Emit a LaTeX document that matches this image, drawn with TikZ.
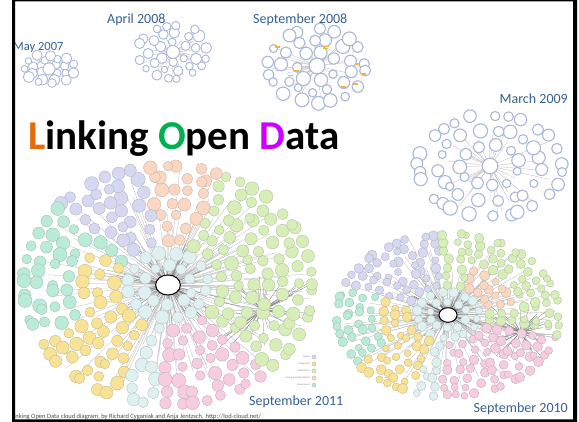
\documentclass[tikz,border=0pt]{standalone}
\usepackage{fontspec}
\setmainfont{Carlito}
\definecolor{lblblue}{RGB}{55,96,146}
\definecolor{lorange}{RGB}{228,108,10}
\definecolor{ogreen}{RGB}{0,176,80}
\definecolor{dmagenta}{RGB}{204,0,255}
\definecolor{media}{RGB}{213,216,240}
\definecolor{usergen}{RGB}{250,215,195}
\definecolor{pubs}{RGB}{215,238,185}
\definecolor{life}{RGB}{245,205,222}
\definecolor{cross}{RGB}{222,240,240}
\definecolor{geo}{RGB}{247,226,150}
\definecolor{gov}{RGB}{185,235,215}
\definecolor{monoedge}{RGB}{170,185,215}
\definecolor{tagorange}{RGB}{245,180,60}
\begin{document}
\begin{tikzpicture}[x=1pt, y=1pt, line join=round, line cap=round,
	bub/.style={fill=#1, draw=#1!60!gray, line width=.4pt},
	mono/.style={fill=white, draw=monoedge},
	link/.style={draw=gray!60, line width=.25pt},
	hub/.style={fill=white, draw=black, line width=1pt},
	lbl/.style={text=lblblue, font=\fontsize{14}{16}\selectfont, inner sep=0pt}]
	\pgfmathsetseed{11}
	\fill[white] (0,0) rectangle (579,422);
	\useasboundingbox (0,0) rectangle (579,422);
	\begin{scope}
	\clip (15,2.5) rectangle (573,420.5);
	% early clouds, all white
	\foreach \cx/\cy/\rx/\ry/\r in {49/353/28/16/4.3, 173/370/38/30/4.6, 317/356/54/41/5.6, 490/256/80/56/5.6}{
		\foreach \k in {1,...,35}{
			\pgfmathsetmacro\t{360*rnd}
			\pgfmathsetmacro\f{0.3+0.6*rnd}
			\draw[link] (\cx,\cy) -- ({\cx+\f*\rx*cos(\t)},{\cy+\f*\ry*sin(\t)});
		}
		\pgfmathsetmacro\lw{0.2*\r}
		\foreach \f in {0.36,0.64,0.9}{
			\pgfmathtruncatemacro\n{round(6.2832*\f*(\rx+\ry)/2/(2.6*\r))}
			\foreach \i in {1,...,\n}{
				\pgfmathsetmacro\t{(\i-0.5)*360/\n+6*rand}
				\pgfmathsetmacro\s{\r*(0.7+0.6*rnd)}
				\filldraw[mono, line width=\lw pt] ({\cx+\f*\rx*cos(\t)+\r*0.3*rand},{\cy+\f*\ry*sin(\t)+\r*0.3*rand}) circle (\s);
			}
		}
		\filldraw[mono, line width=\lw pt] (\cx,\cy) circle ({1.4*\r});
	}
	\foreach \k in {1,...,9}{
		\pgfmathsetmacro\t{360*rnd}
		\pgfmathsetmacro\f{0.4+0.5*rnd}
		\fill[tagorange] ({317+\f*54*cos(\t)},{356+\f*41*sin(\t)}) rectangle ++(5,1.6);
	}
	% coloured clouds: 2011 and 2010
	\foreach \w/\cx/\cy/\rx/\ry/\r in {1/168/137/152/125/5.9, 2/448/107/117/85/4.3}{
		\foreach \k in {1,...,170}{
			\pgfmathsetmacro\t{360*rnd}
			\pgfmathsetmacro\f{0.25+0.7*rnd}
			\draw[link] (\cx,\cy) -- ({\cx+\f*\rx*cos(\t)},{\cy+\f*\ry*sin(\t)});
		}
		\foreach \k in {1,...,60}{
			\pgfmathsetmacro\t{360*rnd}
			\pgfmathsetmacro\f{0.1+0.3*rnd}
			\draw[link, draw=black!55] (\cx,\cy) -- ({\cx+\f*\rx*cos(\t)},{\cy+\f*\ry*sin(\t)});
		}
		\foreach \k in {1,...,50}{
			\draw[link, draw=black!55] ({\cx+0.62*\rx},{\cy-0.2*\ry}) -- ++({0.3*\rx*rand},{0.3*\ry*rand});
		}
		\foreach \v/\a/\b/\c/\lo/\hi in {1/0/360/cross/0/.27, 1/68/100/usergen/.3/1, 1/100/140/media/.3/1,
			1/140/150/gov/.3/1, 1/150/205/gov/.6/1, 1/150/205/geo/.3/.59, 1/205/250/geo/.3/1,
			1/250/265/cross/.3/1, 1/265/315/life/.3/1, 1/315/428/pubs/.3/1,
			2/0/360/cross/0/.27, 2/95/160/media/.3/1, 2/160/215/gov/.6/1, 2/160/215/geo/.3/.59,
			2/215/250/geo/.3/1, 2/250/265/cross/.3/1, 2/265/345/life/.3/1, 2/345/370/pubs/.3/.59,
			2/370/430/usergen/.3/.59, 2/430/455/pubs/.3/.59, 2/345/455/pubs/.6/1}{
			\ifnum\v=\w
			\foreach \f in {0.16,0.26,0.36,0.46,0.56,0.66,0.76,0.86,0.95}{
				\pgfmathtruncatemacro\ok{and(notless(\f,\lo),notgreater(\f,\hi))}
				\ifnum\ok=1
				\pgfmathtruncatemacro\n{max(1,round(\f*(\rx+\ry)/2*(\b-\a)/57.3/(2.45*\r)))}
				\foreach \i in {1,...,\n}{
					\pgfmathsetmacro\t{\a+(\i-0.5)*(\b-\a)/\n+3*rand}
					\pgfmathsetmacro\s{\r*(0.8+0.4*rnd)}
					\filldraw[bub=\c] ({\cx+\f*\rx*cos(\t)+1.2*rand},{\cy+\f*\ry*sin(\t)+1.2*rand}) circle (\s);
				}
				\fi
			}
			\fi
		}
		\filldraw[hub] (\cx,\cy) ellipse ({2.1*\r} and {1.7*\r});
	}
	% legend of the 2011 cloud
	\foreach \y/\c/\t in {65/media/Media, 58/geo/Geographic, 51/pubs/Publications, 44/usergen/User-generated content, 37/gov/Government}{
		\node[anchor=east, inner sep=0pt, text=black!50, font=\fontsize{2.5}{3}\selectfont] (leg\c) at (310,\y) {\t};
		\filldraw[bub=\c] (314,\y) circle (2);
	}
	% labels
	\node[lbl, anchor=base west, font=\fontsize{12.5}{14}\selectfont] (may07) at (13,371) {May 2007};
	\node[lbl, anchor=base west] (apr08) at (107,398) {April 2008};
	\node[lbl, anchor=base west] (sep08) at (253,398) {September 2008};
	\node[lbl, anchor=base east] (mar09) at (568,318) {March 2009};
	\node[lbl, anchor=base west] (sep11) at (249,16) {September 2011};
	\node[lbl, anchor=base east] (sep10) at (568,9) {September 2010};
	\node[anchor=base west, inner sep=0pt, font=\bfseries\fontsize{41}{44}\selectfont] (title) at (28,272)
		{\textcolor{lorange}{L}inking \textcolor{ogreen}{O}pen \textcolor{dmagenta}{D}ata};
	\node[anchor=base west, inner sep=0pt, text=black!70, font=\fontsize{6.5}{7}\selectfont] (credit) at (11,3)
		{Linking Open Data cloud diagram, by Richard Cyganiak and Anja Jentzsch. http://lod-cloud.net/};
	\end{scope}
	% frame
	\fill[black] (12,0) rectangle (15,422) (12,420.5) rectangle (577,422)
		(573,0) rectangle (577,422) (12,0) rectangle (577,2.5);
\end{tikzpicture}
\end{document}
